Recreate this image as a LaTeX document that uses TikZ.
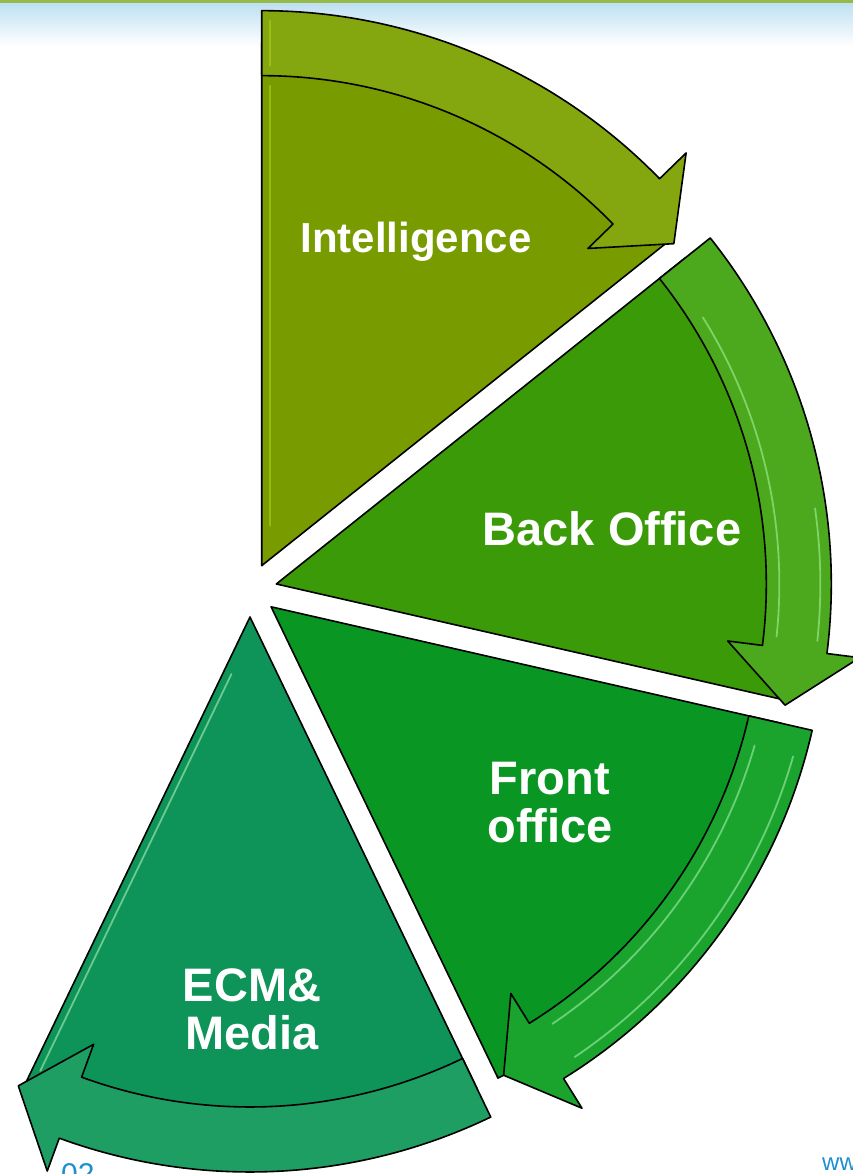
\documentclass[tikz,border=0pt]{standalone}
\usepackage{fontspec}
\setmainfont{Liberation Sans}
\definecolor{intfill}{HTML}{789C00}
\definecolor{intband}{HTML}{84A60E}
\definecolor{backfill}{HTML}{3A9A08}
\definecolor{backband}{HTML}{4CA81C}
\definecolor{frontfill}{HTML}{0A9623}
\definecolor{frontband}{HTML}{1AA42E}
\definecolor{ecmfill}{HTML}{0E9458}
\definecolor{ecmband}{HTML}{1E9E62}
\definecolor{topline}{HTML}{96BA48}
\definecolor{topsky}{HTML}{BEE0F2}
\definecolor{footblue}{HTML}{1E90D0}
\begin{document}
\begin{tikzpicture}[x=1pt,y=1pt,
  seg/.style={draw=black,line width=1.6pt,line join=round},
  shine/.style={line width=1.8pt,line cap=round,opacity=0.5},
  lab/.style={text=white,font=\bfseries\fontsize{47}{48}\selectfont,align=center,inner sep=0pt}]
  % page and header band
  \fill[white] (0,0) rectangle (853,1174);
  \useasboundingbox (0,0) rectangle (853,1174);
  \shade[top color=topsky,bottom color=white] (0,1128) rectangle (853,1171);
  \fill[topline] (0,1171) rectangle (853,1174);
  % Intelligence
  \begin{scope}[shift={(250,584)},shift={(64.29:27)}]
    \draw[seg,fill=intfill] (0,0) -- (90:523) arc[start angle=90,end angle=38.57,radius=523] -- cycle;
    \draw[shine,yellow!70!green] (8,40) -- (8,480);
    \draw[seg,fill=intband] (90:490) -- (90:555) arc[start angle=90,end angle=44.2,radius=555]
      -- (44.2:592) -- (38.0:523) -- (44.2:455) -- (44.2:490)
      arc[start angle=44.2,end angle=90,radius=490] -- cycle;
    \draw[shine,yellow!70!green] (8,500) -- (8,545);
  \end{scope}
  % Back Office
  \begin{scope}[shift={(250,584)},shift={(12.86:27)}]
    \draw[seg,fill=backfill] (0,0) -- (38.57:523) arc[start angle=38.57,end angle=-12.86,radius=523] -- cycle;
    \draw[seg,fill=backband] (38.57:490) -- (38.57:555) arc[start angle=38.57,end angle=-7.2,radius=555]
      -- (-7.2:588) -- (-13.4:523) -- (-7.2:455) -- (-7.2:490)
      arc[start angle=-7.2,end angle=38.57,radius=490] -- cycle;
    \draw[shine,green!30!white] (32:503) arc[start angle=32,end angle=-6,radius=503];
    \draw[shine,green!30!white] (8:544) arc[start angle=8,end angle=-6,radius=544];
  \end{scope}
  % Front office
  \begin{scope}[shift={(250,584)},shift={(-38.57:27)}]
    \draw[seg,fill=frontfill] (0,0) -- (-12.86:523) arc[start angle=-12.86,end angle=-64.29,radius=523] -- cycle;
    \draw[seg,fill=frontband] (-12.86:490) -- (-12.86:555) arc[start angle=-12.86,end angle=-58.2,radius=555]
      -- (-58.2:590) -- (-63.6:523) -- (-58.2:455) -- (-58.2:490)
      arc[start angle=-58.2,end angle=-12.86,radius=490] -- cycle;
    \draw[shine,green!25!white] (-16:503) arc[start angle=-16,end angle=-56,radius=503];
    \draw[shine,green!25!white] (-16:543) arc[start angle=-16,end angle=-56,radius=543];
  \end{scope}
  % ECM & Media
  \begin{scope}[shift={(250,584)},shift={(-90:27)}]
    \draw[seg,fill=ecmfill] (0,0) -- (-64.29:523) arc[start angle=-64.29,end angle=-115.71,radius=523] -- cycle;
    \draw[shine,green!20!white] (-108:60) -- (-114.8:500);
    \draw[seg,fill=ecmband] (-64.29:490) -- (-64.29:555) arc[start angle=-64.29,end angle=-110.1,radius=555]
      -- (-110.1:590) -- (-116.3:523) -- (-110.1:455) -- (-110.1:490)
      arc[start angle=-110.1,end angle=-64.29,radius=490] -- cycle;
  \end{scope}
  % labels
  \node[lab,font=\bfseries\fontsize{42}{44}\selectfont,anchor=base] (intel) at (416,921) {Intelligence};
  \node[lab,anchor=base] (back) at (612,628) {Back Office};
  \node[lab,anchor=base] (front) at (550,331) {Front\\office};
  \node[lab,anchor=base] (ecm) at (252,124) {ECM\&\\Media};
  % footer
  \node[text=footblue,font=\fontsize{30}{30}\selectfont,anchor=north west,inner sep=0pt] (pgno) at (61,11) {02};
  \node[text=footblue,font=\fontsize{24}{24}\selectfont,anchor=north west,inner sep=0pt] (web) at (822,16) {www};
\end{tikzpicture}
\end{document}
